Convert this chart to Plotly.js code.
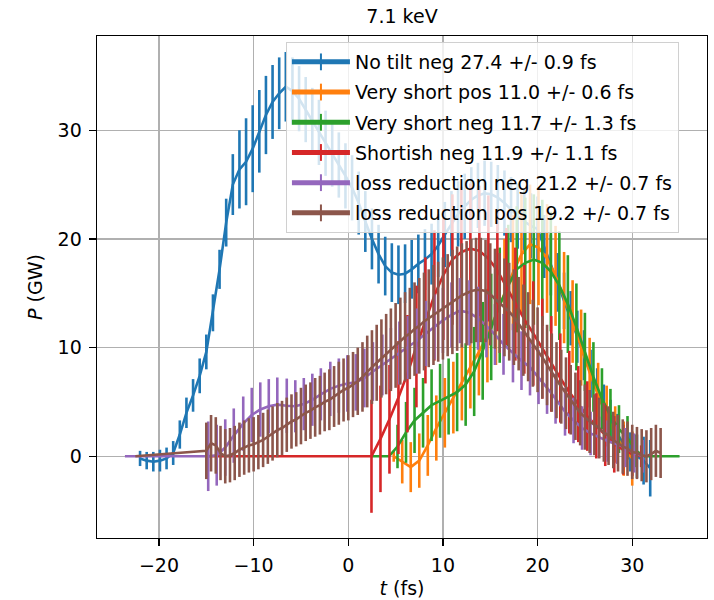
<!DOCTYPE html>
<html><head><meta charset="utf-8">
<script src="https://cdn.plot.ly/plotly-3.0.1.min.js"></script>
<style>html,body{margin:0;padding:0;background:#fff}#chart{width:714px;height:600px}</style>
</head><body><div id="chart"></div>
<script>
// ---- data ----
const seriesNames = [
  "No tilt neg 27.4 +/- 0.9 fs",
  "Very short pos 11.0 +/- 0.6 fs",
  "Very short neg 11.7 +/- 1.3 fs",
  "Shortish neg 11.9 +/- 1.1 fs",
  "loss reduction neg 21.2 +/- 0.7 fs",
  "loss reduction pos 19.2 +/- 0.7 fs"
];
const seriesColors = ["#1f77b4","#ff7f0e","#2ca02c","#d62728","#9467bd","#8c564b"];

const tNoTilt = [-22.0,-21.3,-20.6,-19.9,-19.2,-18.5,-17.8,-17.1,-16.4,-15.7,-15.0,-14.3,-13.6,-12.9,-12.2,-11.5,-10.8,-10.1,-9.4,-8.7,-8.0,-7.3,-6.6,-5.9,-5.2,-4.5,-3.8,-3.1,-2.4,-1.7,-1.0,-0.3,0.4,1.1,1.8,2.5,3.2,3.9,4.6,5.3,6.0,6.7,7.4,8.1,8.8,9.5,10.2,10.9,11.6,12.3,13.0,13.7,14.4,15.1,15.8,16.5,17.2,17.9,18.6,19.3,20.0,20.7,21.4,22.1,22.8,23.5,24.2,24.9,25.6,26.3,27.0,27.7,28.4,29.1,29.8,30.5,31.2,31.9];
const pNoTilt = [-0.2,-0.4,-0.5,-0.4,-0.2,0.3,2.0,4.0,5.6,7.4,9.6,13.2,17.2,21.5,25.0,26.4,27.1,28.3,29.9,31.4,32.6,33.4,34.0,33.6,32.9,31.9,30.9,29.8,28.8,27.8,26.8,25.8,24.7,23.3,21.6,20.0,18.6,17.5,16.9,16.7,16.8,17.2,17.7,18.1,18.6,19.4,20.4,21.4,22.3,23.0,23.6,24.0,24.2,24.1,23.8,23.3,22.7,22.1,21.6,21.2,20.9,19.3,17.6,16.0,14.3,12.7,11.0,9.3,7.6,6.0,4.6,3.3,2.1,1.1,0.4,0.0,-0.4,-1.1];
const eNoTilt = [0.7,0.8,0.9,1.0,1.0,1.1,1.3,1.4,1.5,1.6,1.6,1.7,1.8,2.2,2.8,3.6,4.0,4.0,3.8,3.6,3.4,3.3,3.2,3.1,3.0,3.0,3.0,3.0,3.0,3.0,3.0,3.0,3.0,2.9,2.8,2.8,2.7,2.7,2.7,2.7,2.7,2.7,2.7,2.8,2.8,2.9,3.0,3.0,3.0,3.0,3.0,3.0,3.0,3.0,3.0,3.0,3.0,3.0,3.0,3.0,3.0,2.9,2.8,2.7,2.6,2.5,2.4,2.3,2.2,2.1,2.0,1.9,1.8,1.8,1.8,2.0,2.2,2.6];

const tVSPos = [4.8,5.7,6.6,7.5,8.4,9.3,10.2,11.1,12.0,12.9,13.8,14.7,15.6,16.5,17.4,18.3,19.2,20.1,21.0,21.9,22.8,23.7,24.6,25.5,26.4,27.3,28.2,29.1,30.0];
const pVSPos = [0.0,-0.5,-1.0,-0.4,1.0,2.6,4.0,5.4,6.8,8.1,9.6,11.1,13.0,15.0,16.9,18.6,19.5,19.2,18.2,16.6,14.6,12.4,10.0,7.7,5.6,3.7,2.0,0.7,-0.2];
const eVSPos = [0.5,2.0,2.3,2.5,2.8,3.0,3.2,3.3,3.5,3.7,4.0,4.3,4.6,5.0,5.3,5.5,5.5,5.3,5.0,4.6,4.2,3.8,3.5,3.2,3.0,2.8,2.6,2.5,2.5];

const tVSNeg = [2.5,3.4,4.3,5.2,6.1,7.0,7.9,8.8,9.7,10.6,11.5,12.4,13.3,14.2,15.1,16.0,16.9,17.8,18.7,19.6,20.5,21.4,22.3,23.2,24.1,25.0,25.9,26.8,27.7,28.6,29.5,30.4,31.3,32.2,33.1,34.1,35.0];
const pVSNeg = [0.0,0.0,0.0,0.9,2.2,3.3,4.0,4.7,5.1,5.5,5.9,6.6,7.8,9.7,11.9,13.9,15.7,17.2,17.8,18.1,17.8,17.0,15.7,14.0,11.9,9.6,7.3,5.3,3.7,2.5,1.7,0.5,0.0,0.0,0.0,0.0,0.0];
const eVSNeg = [0,0,0,2.0,2.8,3.0,3.2,3.3,3.4,3.5,3.6,3.8,4.1,4.5,4.9,5.3,5.6,5.8,6.0,6.0,5.8,5.5,5.0,4.5,4.0,3.6,3.2,2.8,2.5,2.2,2.0,1.5,0,0,0,0,0];

const tShort = [-15.0,2.45,3.4,4.35,5.3,6.25,7.2,8.15,9.1,10.05,11.0,11.95,12.9,13.85,14.8,15.75,16.7,17.65,18.6,19.55,20.5,21.45,22.4,23.35,24.3,25.25,26.2,27.15,28.1,29.05,30.0,30.95];
const pShort = [0.0,0.0,1.6,3.4,5.4,7.6,10.1,12.5,14.8,16.7,18.1,18.8,19.1,18.9,18.2,17.1,15.6,14.0,12.6,11.3,9.9,8.5,7.2,5.9,4.8,3.7,2.8,1.9,1.1,0.6,0.2,0.0];
const eShort = [0,5.2,4.9,5.0,5.2,5.4,5.6,5.8,6.0,6.0,6.0,6.0,6.0,6.0,5.8,5.6,5.4,5.2,5.0,4.8,4.6,4.4,4.1,3.8,3.5,3.2,3.0,2.8,2.6,2.3,2.0,1.0];

const tLossNeg = [-23.6,-14.8,-13.9,-13.0,-12.1,-11.1,-10.2,-9.3,-8.4,-7.5,-6.5,-5.6,-4.7,-3.8,-2.9,-1.9,-1.0,-0.1,0.8,1.7,2.6,3.6,4.5,5.4,6.3,7.2,8.2,9.1,10.0,10.9,11.8,12.8,13.7,14.6,15.5,16.4,17.4,18.3,19.2,20.1,21.0,21.9,22.9,23.8,24.7,25.6,26.5,27.4,28.4,29.3,30.2,31.1];
const pLossNeg = [0.0,0.0,0.1,0.8,1.9,3.0,3.8,4.3,4.6,4.75,4.65,4.6,4.8,5.2,5.7,6.2,6.5,6.7,6.8,7.2,7.8,8.4,9.0,9.5,10.0,10.6,11.3,11.9,12.5,13.0,13.4,13.2,12.7,12.0,11.2,10.3,9.5,8.8,8.2,7.3,6.3,5.3,4.1,3.3,2.6,2.1,1.75,1.4,1.1,0.8,0.3,0.0];
const eLossNeg = [0,3.2,2.8,2.6,2.5,2.5,2.5,2.5,2.5,2.5,2.5,2.4,2.4,2.4,2.4,2.5,2.5,2.6,2.6,2.7,2.7,2.8,2.8,2.9,2.9,3.0,3.0,3.0,3.0,3.0,3.0,3.0,2.9,2.9,2.8,2.8,2.7,2.7,2.6,2.5,2.4,2.3,2.2,2.1,2.0,2.0,1.9,1.9,1.8,1.8,1.8,1.5];

const tLossPos = [-22.5,-15.0,-14.5,-14.0,-13.5,-13.0,-12.5,-12.0,-11.5,-11.0,-10.5,-10.0,-9.5,-9.0,-8.5,-8.0,-7.5,-7.0,-6.5,-6.0,-5.5,-5.0,-4.5,-4.0,-3.5,-3.0,-2.5,-2.0,-1.5,-1.0,-0.5,0.0,0.5,1.0,1.5,2.0,2.5,3.0,3.5,4.0,4.5,5.0,5.5,6.0,6.5,7.0,7.5,8.0,8.5,9.0,9.5,10.0,10.5,11.0,11.5,12.0,12.5,13.0,13.5,14.0,14.5,15.0,15.5,16.0,16.5,17.0,17.5,18.0,18.5,19.0,19.5,20.0,20.5,21.0,21.5,22.0,22.5,23.0,23.5,24.0,24.5,25.0,25.5,26.0,26.5,27.0,27.5,28.0,28.5,29.0,29.5,30.0,30.5,31.0,31.5,32.0,32.5,33.0];
const pLossPos = [0.0,0.5,1.2,1.0,0.3,0.0,0.1,0.3,0.6,0.8,1.0,1.1,1.3,1.5,1.8,2.1,2.4,2.6,2.9,3.2,3.4,3.7,4.0,4.2,4.5,4.7,5.0,5.2,5.5,5.8,6.1,6.3,6.6,6.9,7.3,7.8,8.2,8.6,9.0,9.4,9.8,10.2,10.6,11.0,11.3,11.7,12.0,12.4,12.7,13.0,13.3,13.6,13.9,14.2,14.5,14.8,15.0,15.2,15.3,15.3,15.2,14.9,14.5,14.1,13.7,13.3,12.8,12.2,11.6,11.0,10.4,9.8,9.1,8.4,7.7,7.0,6.4,5.8,5.2,4.6,4.0,3.6,3.2,2.9,2.6,2.2,1.9,1.5,1.2,0.9,0.7,0.4,0.3,0.1,0.0,0.2,0.5,0.3];
const eLossPos = [0,2.6,2.6,2.6,2.5,2.5,2.5,2.5,2.5,2.5,2.5,2.5,2.5,2.5,2.5,2.5,2.5,2.5,2.5,2.5,2.5,2.6,2.6,2.6,2.7,2.7,2.7,2.8,2.8,2.9,2.9,3.0,3.0,3.1,3.2,3.3,3.4,3.5,3.6,3.7,3.8,3.9,4.0,4.1,4.2,4.3,4.4,4.5,4.5,4.6,4.6,4.7,4.7,4.8,4.8,4.8,4.8,4.8,4.8,4.8,4.7,4.7,4.6,4.6,4.5,4.5,4.4,4.3,4.2,4.1,4.0,3.9,3.8,3.7,3.6,3.5,3.4,3.3,3.2,3.1,3.0,3.0,2.9,2.8,2.8,2.7,2.7,2.6,2.6,2.5,2.5,2.5,2.4,2.4,2.4,2.4,2.4,2.3];

const xTicks = [-20,-10,0,10,20,30];
const yTicks = [0,10,20,30];

const allT = [tNoTilt,tVSPos,tVSNeg,tShort,tLossNeg,tLossPos];
const allP = [pNoTilt,pVSPos,pVSNeg,pShort,pLossNeg,pLossPos];
const allE = [eNoTilt,eVSPos,eVSNeg,eShort,eLossNeg,eLossPos];

const FONT = "DejaVu Sans, sans-serif";
const traces = allT.map((t,i)=>({
  type:"scatter", mode:"lines+markers", x:t, y:allP[i], name:seriesNames[i],
  legendgroup:"g"+i,
  line:{color:seriesColors[i], width:2.6},
  marker:{symbol:"line-ns-open", size:0.001, color:seriesColors[i], line:{color:seriesColors[i], width:2.6}},
  error_y:{type:"data", array:allE[i], visible:true, color:seriesColors[i], thickness:2.6, width:0}
}));

const layout = {
  width:714, height:600,
  margin:{l:97, r:7, t:36, b:62},
  paper_bgcolor:"#fff", plot_bgcolor:"#fff",
  font:{family:FONT, size:19, color:"#000"},
  title:{text:"7.1 keV", font:{family:FONT, size:19, color:"#000"}, x:0.5, xref:"paper", y:1-16/600, yref:"container", yanchor:"middle"},
  xaxis:{range:[-26.55,37.9], tickvals:xTicks, ticks:"outside", ticklen:7, tickwidth:1.4, tickcolor:"#000",
         showline:true, mirror:true, linecolor:"#000", linewidth:1.4, showgrid:true, gridcolor:"#b0b0b0", gridwidth:1.4,
         zeroline:false, tickfont:{family:FONT,size:19,color:"#000"}, ticklabelstandoff:3,
         title:{text:"<i>t</i> (fs)", font:{family:FONT,size:19,color:"#000"}, standoff:6}},
  yaxis:{range:[-7.52,38.67], tickvals:yTicks, ticks:"outside", ticklen:7, tickwidth:1.4, tickcolor:"#000",
         showline:true, mirror:true, linecolor:"#000", linewidth:1.4, showgrid:true, gridcolor:"#b0b0b0", gridwidth:1.4,
         zeroline:false, tickfont:{family:FONT,size:19,color:"#000"}, ticklabelstandoff:3,
         title:{text:"<i>P</i> (GW)", font:{family:FONT,size:19,color:"#000"}, standoff:10}},
  showlegend:true,
  legend:{x:0.954, xanchor:"right", y:0.988, yanchor:"top", bgcolor:"rgba(255,255,255,0.8)",
          bordercolor:"#d0d0d0", borderwidth:1, font:{family:FONT,size:19,color:"#000"},
          itemsizing:"constant", itemwidth:58, tracegroupgap:2.5, traceorder:"grouped"}
};
Plotly.newPlot("chart", traces, layout, {staticPlot:true, displayModeBar:false});
</script>
</body></html>
